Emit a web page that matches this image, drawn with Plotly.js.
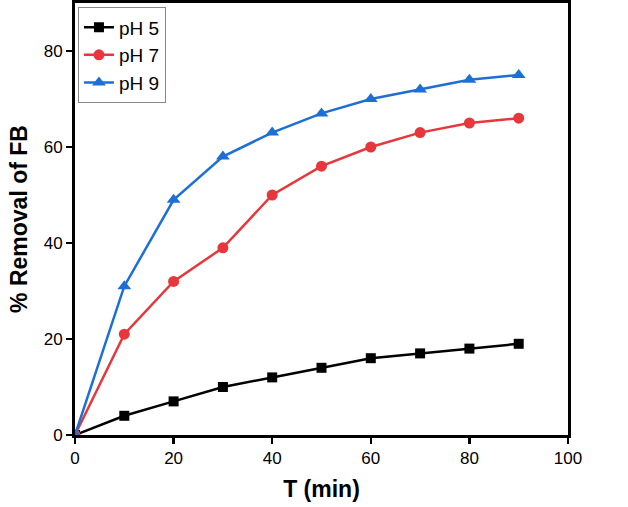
<!DOCTYPE html>
<html>
<head>
<meta charset="utf-8">
<script src="https://cdn.plot.ly/plotly-3.0.1.min.js"></script>
<style>
  html, body { margin: 0; padding: 0; background: #fff; }
  #chart { width: 628px; height: 507px; }
</style>
</head>
<body>
<div id="chart"></div>
<script>
// contact time, min
const time = [0, 10, 20, 30, 40, 50, 60, 70, 80, 90];
// % removal of FB at each pH
const ph5 = [0, 4, 7, 10, 12, 14, 16, 17, 18, 19];
const ph7 = [0, 21, 32, 39, 50, 56, 60, 63, 65, 66];
const ph9 = [0, 31, 49, 58, 63, 67, 70, 72, 74, 75];

const seriesNames = ['pH 5', 'pH 7', 'pH 9'];
const seriesColors = ['#000000', '#e8373c', '#1d6fd6'];
const seriesSymbols = ['square', 'circle', 'triangle-up'];
const markerSizes = [10, 11, 12];

let traces = [ph5, ph7, ph9].map(function (ys, i) {
    return {
        x: time,
        y: ys,
        name: seriesNames[i],
        type: 'scatter',
        mode: 'lines+markers',
        line: {color: seriesColors[i], width: 2.5},
        marker: {color: seriesColors[i], symbol: seriesSymbols[i], size: markerSizes[i]}
    };
});

let axisCommon = {
    showline: true,
    linecolor: '#000',
    linewidth: 3,
    mirror: true,
    ticks: 'outside',
    ticklen: 6,
    tickwidth: 2.5,
    tickcolor: '#000',
    showgrid: false,
    zeroline: false,
    tickfont: {family: 'Liberation Sans, Arial, sans-serif', size: 17, color: '#000'}
};

let layout = {
    width: 628,
    height: 507,
    margin: {l: 75, r: 60, t: 3, b: 72},
    paper_bgcolor: '#fff',
    plot_bgcolor: '#fff',
    showlegend: true,
    legend: {
        x: 0.006, y: 0.99, xanchor: 'left', yanchor: 'top',
        bordercolor: '#888', borderwidth: 1, bgcolor: '#fff',
        font: {family: 'Liberation Sans, Arial, sans-serif', size: 19, color: '#000'},
        tracegroupgap: 0
    },
    xaxis: Object.assign({}, axisCommon, {
        range: [0, 100],
        tickvals: [0, 20, 40, 60, 80, 100],
        title: {text: 'T (min)', standoff: 14,
            font: {family: 'Liberation Sans, Arial, sans-serif', size: 23, color: '#000', weight: 'bold'}}
    }),
    yaxis: Object.assign({}, axisCommon, {
        range: [0, 90],
        tickvals: [0, 20, 40, 60, 80],
        title: {text: '% Removal of FB', standoff: 10,
            font: {family: 'Liberation Sans, Arial, sans-serif', size: 23, color: '#000', weight: 'bold'}}
    })
};

Plotly.newPlot('chart', traces, layout, {displayModeBar: false, staticPlot: true});
</script>
</body>
</html>
